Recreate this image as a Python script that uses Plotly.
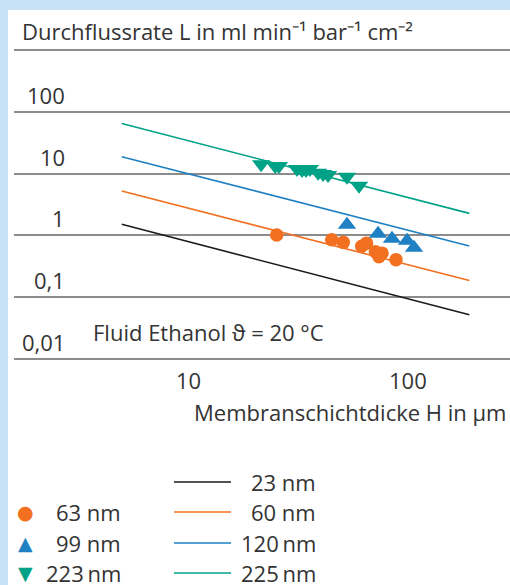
import plotly.graph_objects as go
import math

# membrane thickness H (um) vs flow rate L (ml min-1 bar-1 cm-2)
line_h = [5, 190]
line_23 = [1.51, 0.0515]
line_60 = [5.23, 0.185]
line_120 = [18.8, 0.674]
line_225 = [64.9, 2.27]

h_63 = [25.3, 45.0, 50.8, 61.6, 64.8, 71.1, 76.2, 73.8, 88.2]
l_63 = [1.015, 0.852, 0.77, 0.664, 0.748, 0.541, 0.515, 0.449, 0.404]

h_99 = [52.8, 73.1, 84.6, 99.0, 106.5]
l_99 = [1.49, 1.065, 0.884, 0.821, 0.632]

h_223 = [21.5, 24.9, 25.9, 31.3, 33.0, 34.4, 35.8, 39.0, 41.1, 43.3, 52.8, 59.9]
l_223 = [14.2, 13.3, 13.3, 11.9, 11.5, 11.5, 11.9, 10.3, 9.9, 9.5, 8.9, 6.35]

y_ticks = [100, 10, 1, 0.1, 0.01]
y_labels = ["100", "10", "1", "0,1", "0,01"]
x_ticks = [10, 100]
x_labels = ["10", "100"]

BLACK = "#1a1a1a"
ORANGE = "#f37021"
BLUE = "#1f80c3"
GREEN = "#00a287"
TXT = "#333333"
FONT = "Open Sans"

# plot area in pixels: x 14..510, y 49..360 (log range -2.02..3.02)
PL, PR, PT, PB = 14, 510, 49, 360


def px_x(p):
    return (p - PL) / (PR - PL)


def px_y(p):
    return (PB - p) / (PB - PT)


fig = go.Figure()

for ys, col in [(line_23, BLACK), (line_60, ORANGE), (line_120, BLUE), (line_225, GREEN)]:
    fig.add_trace(go.Scatter(x=line_h, y=ys, mode="lines",
                             line=dict(color=col, width=1.6), showlegend=False))

fig.add_trace(go.Scatter(x=h_63, y=l_63, mode="markers",
                         marker=dict(symbol="circle", size=13.5, color=ORANGE), showlegend=False))
fig.add_trace(go.Scatter(x=h_99, y=l_99, mode="markers",
                         marker=dict(symbol="triangle-up", size=16, color=BLUE), showlegend=False))
fig.add_trace(go.Scatter(x=h_223, y=l_223, mode="markers",
                         marker=dict(symbol="triangle-down", size=16, color=GREEN), showlegend=False))

annos = []
# y tick labels sit above the grid lines
for v, t in zip(y_ticks, y_labels):
    annos.append(dict(x=px_x(67), y=math.log10(v), xref="paper", yref="y", text=t,
                      xanchor="right", yanchor="bottom", showarrow=False,
                      font=dict(size=22, color=TXT, family=FONT)))
for v, t in zip(x_ticks, x_labels):
    annos.append(dict(x=math.log10(v), y=px_y(380), xref="x", yref="paper", text=t,
                      xanchor="center", yanchor="middle", showarrow=False,
                      font=dict(size=22, color=TXT, family=FONT)))

annos.append(dict(x=1, y=px_y(412), xref="paper", yref="paper", xshift=-2,
                  text="Membranschichtdicke H in µm", xanchor="right", yanchor="middle",
                  showarrow=False, font=dict(size=22, color=TXT, family=FONT)))
annos.append(dict(x=px_x(20), y=px_y(31), xref="paper", yref="paper",
                  text="Durchflussrate L in ml min⁻¹ bar⁻¹ cm⁻²",
                  xanchor="left", yanchor="middle", showarrow=False,
                  font=dict(size=22, color=TXT, family=FONT)))
annos.append(dict(x=px_x(91), y=px_y(332), xref="paper", yref="paper",
                  text="Fluid Ethanol ϑ = 20 °C", xanchor="left", yanchor="middle",
                  showarrow=False, font=dict(size=22, color=TXT, family=FONT)))

shapes = [dict(type="rect", xref="paper", yref="paper", x0=px_x(8), x1=px_x(515),
               y0=px_y(10), y1=px_y(590), fillcolor="white", line=dict(width=0), layer="below")]

# legend
rows = [482, 512, 543, 573]
line_leg = [(BLACK, "23 nm"), (ORANGE, "60 nm"), (BLUE, "120\u2009nm"), (GREEN, "225\u2009nm")]
for r, (col, t) in zip(rows, line_leg):
    shapes.append(dict(type="line", xref="paper", yref="paper", x0=px_x(174), x1=px_x(231),
                       y0=px_y(r), y1=px_y(r), line=dict(color=col, width=1.6)))
    annos.append(dict(x=px_x(318), y=px_y(r), xref="paper", yref="paper", text=t,
                      xanchor="right", yanchor="middle", showarrow=False,
                      font=dict(size=22, color=TXT, family=FONT)))

mark_leg = [(ORANGE, "●", "63 nm"), (BLUE, "▲", "99 nm"), (GREEN, "▼", "223\u2009nm")]
for r, (col, g, t) in zip(rows[1:], mark_leg):
    annos.append(dict(x=px_x(25), y=px_y(r), xref="paper", yref="paper", text=g,
                      xanchor="center", yanchor="middle", showarrow=False,
                      font=dict(size=19, color=col, family="DejaVu Sans")))
    annos.append(dict(x=px_x(123), y=px_y(r), xref="paper", yref="paper", text=t,
                      xanchor="right", yanchor="middle", showarrow=False,
                      font=dict(size=22, color=TXT, family=FONT)))

fig.update_layout(
    width=510, height=585,
    margin=dict(l=PL, r=510 - PR, t=PT, b=585 - PB, pad=0),
    paper_bgcolor="#c7e0f4",
    plot_bgcolor="rgba(0,0,0,0)",
    annotations=annos,
    shapes=shapes,
    font=dict(family=FONT, color=TXT),
)
fig.update_xaxes(type="log", range=[1 - (188 - PL) / 220, 1 + (PR - 188) / 220],
                 showgrid=False, zeroline=False, showticklabels=False, ticks="")
fig.update_yaxes(type="log", range=[-2.02, 3.02], showgrid=True, gridcolor="#8c8c8c", gridwidth=1.5,
                 tickvals=[0.01, 0.1, 1, 10, 100, 1000], showticklabels=False, ticks="",
                 zeroline=False)

fig.write_html("out.html", config={"displayModeBar": False},
               post_script="document.body.style.margin='0';document.body.style.overflow='hidden';")
